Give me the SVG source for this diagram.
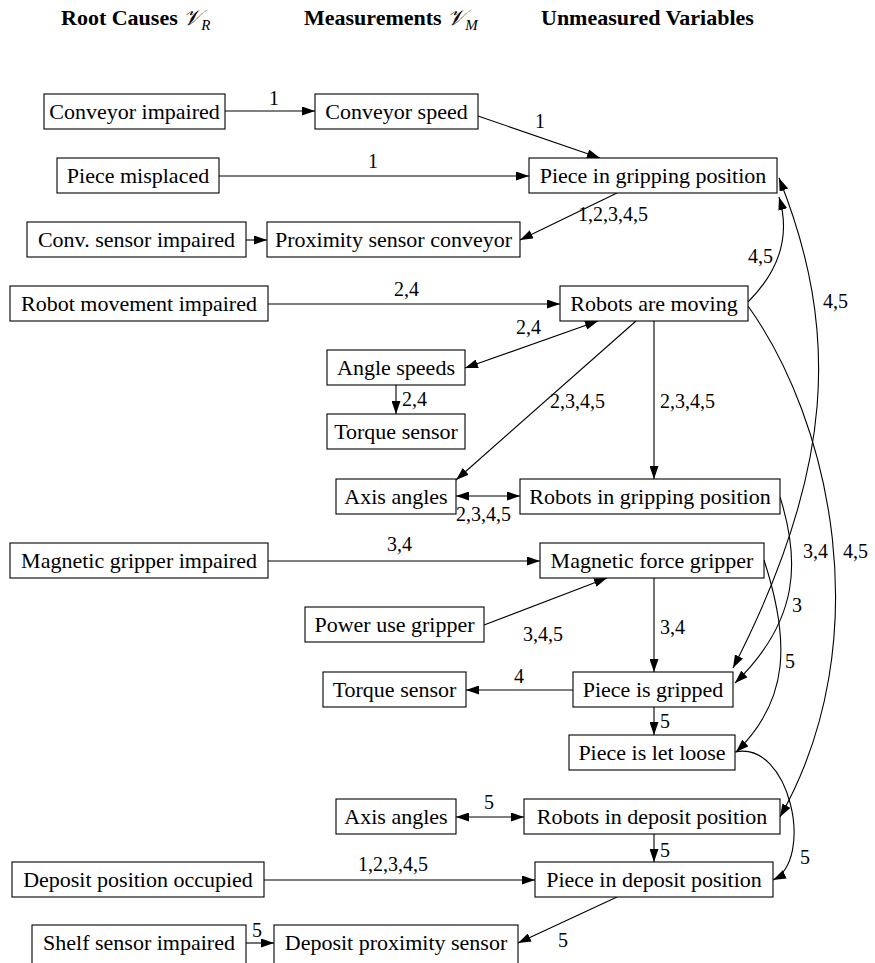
<svg xmlns="http://www.w3.org/2000/svg" width="875" height="963" viewBox="0 0 875 963">
<style>
.n rect{fill:#fff;stroke:#000;stroke-width:1.1}
.n text{font-family:"Liberation Serif","Times New Roman",serif;font-size:22px;text-anchor:middle;fill:#000}
.h{font-family:"Liberation Serif","Times New Roman",serif;font-size:22px;font-weight:bold;fill:#000}
.m{font-weight:normal;font-style:italic}
#edges path{fill:none;stroke:#000;stroke-width:1.1}
.l{font-family:"Liberation Serif","Times New Roman",serif;font-size:20px;fill:#000}
</style>
<defs>
<marker id="a" viewBox="0 0 13 9" refX="13" refY="4.5" markerWidth="13" markerHeight="9" markerUnits="userSpaceOnUse" orient="auto"><path d="M0,0 L13,4.5 L0,9 z" fill="#000"/></marker>
<marker id="s" viewBox="0 0 13 9" refX="0" refY="4.5" markerWidth="13" markerHeight="9" markerUnits="userSpaceOnUse" orient="auto"><path d="M13,0 L0,4.5 L13,9 z" fill="#000"/></marker>
</defs>
<g id="header">
<text class="h" x="61" y="25">Root Causes <tspan class="m">𝒱</tspan><tspan class="m" font-size="15" dy="5">R</tspan></text>
<text class="h" x="304" y="25">Measurements <tspan class="m">𝒱</tspan><tspan class="m" font-size="15" dy="5">M</tspan></text>
<text class="h" x="541" y="25">Unmeasured Variables</text>
</g>
<g id="edges">
<path d="M225,111 H315" marker-end="url(#a)"/>
<path d="M478,116 L600,158" marker-end="url(#a)"/>
<path d="M219,176 H529" marker-end="url(#a)"/>
<path d="M617,193 L520,240" marker-end="url(#a)"/>
<path d="M246,240 H267" marker-end="url(#a)"/>
<path d="M268,304 H560" marker-end="url(#a)"/>
<path d="M598,321 L465,368" marker-start="url(#s)" marker-end="url(#a)"/>
<path d="M396,385 V414" marker-end="url(#a)"/>
<path d="M636,321 L456,480" marker-end="url(#a)"/>
<path d="M654,321 V479" marker-end="url(#a)"/>
<path d="M456,496 H520" marker-start="url(#s)" marker-end="url(#a)"/>
<path d="M268,561 H540" marker-end="url(#a)"/>
<path d="M484,625 L607,578" marker-end="url(#a)"/>
<path d="M654,578 V672" marker-end="url(#a)"/>
<path d="M573,690 H466" marker-end="url(#a)"/>
<path d="M654,707 V735" marker-end="url(#a)"/>
<path d="M456,817 H524" marker-start="url(#s)" marker-end="url(#a)"/>
<path d="M654,834 V862" marker-end="url(#a)"/>
<path d="M264,880 H535" marker-end="url(#a)"/>
<path d="M617,897 L518,943" marker-end="url(#a)"/>
<path d="M246,943 H274" marker-end="url(#a)"/>
<path d="M748,302 C775,275 792,240 779,197" marker-end="url(#a)"/>
<path d="M779,178 C840,330 835,470 733,668" marker-start="url(#s)" marker-end="url(#a)"/>
<path d="M748,306 C830,420 880,640 780,817" marker-end="url(#a)"/>
<path d="M780,497 C800,560 800,620 735,683" marker-end="url(#a)"/>
<path d="M764,560 C790,640 790,700 736,752" marker-end="url(#a)"/>
<path d="M735,752 C790,740 815,860 773,880" marker-end="url(#a)"/>
</g>
<g id="labels">
<text class="l" x="269" y="105">1</text>
<text class="l" x="535" y="128">1</text>
<text class="l" x="368" y="168">1</text>
<text class="l" x="578" y="221">1,2,3,4,5</text>
<text class="l" x="394" y="296">2,4</text>
<text class="l" x="516" y="334">2,4</text>
<text class="l" x="402" y="406">2,4</text>
<text class="l" x="550" y="408">2,3,4,5</text>
<text class="l" x="660" y="408">2,3,4,5</text>
<text class="l" x="456" y="521">2,3,4,5</text>
<text class="l" x="387" y="551">3,4</text>
<text class="l" x="523" y="641">3,4,5</text>
<text class="l" x="660" y="634">3,4</text>
<text class="l" x="514" y="683">4</text>
<text class="l" x="660" y="728">5</text>
<text class="l" x="484" y="809">5</text>
<text class="l" x="660" y="857">5</text>
<text class="l" x="358" y="871">1,2,3,4,5</text>
<text class="l" x="558" y="947">5</text>
<text class="l" x="252" y="937">5</text>
<text class="l" x="748" y="263">4,5</text>
<text class="l" x="823" y="308">4,5</text>
<text class="l" x="803" y="558">3,4</text>
<text class="l" x="843" y="558">4,5</text>
<text class="l" x="792" y="612">3</text>
<text class="l" x="785" y="668">5</text>
<text class="l" x="800" y="864">5</text>
</g>
<g id="n1" class="n"><rect x="44" y="94" width="181" height="35"/><text x="134.5" y="119">Conveyor impaired</text></g>
<g id="n2" class="n"><rect x="315" y="94" width="163" height="35"/><text x="396.5" y="119">Conveyor speed</text></g>
<g id="n3" class="n"><rect x="57" y="158" width="162" height="35"/><text x="138" y="183">Piece misplaced</text></g>
<g id="n4" class="n"><rect x="529" y="158" width="248" height="35"/><text x="653" y="183">Piece in gripping position</text></g>
<g id="n5" class="n"><rect x="27" y="222" width="219" height="35"/><text x="136.5" y="247">Conv. sensor impaired</text></g>
<g id="n6" class="n"><rect x="267" y="222" width="253" height="35"/><text x="393.5" y="247">Proximity sensor conveyor</text></g>
<g id="n7" class="n"><rect x="10" y="286" width="258" height="35"/><text x="139" y="311">Robot movement impaired</text></g>
<g id="n8" class="n"><rect x="560" y="286" width="188" height="35"/><text x="654" y="311">Robots are moving</text></g>
<g id="n9" class="n"><rect x="327" y="350" width="138" height="35"/><text x="396" y="375">Angle speeds</text></g>
<g id="n10" class="n"><rect x="327" y="414" width="138" height="35"/><text x="396" y="439">Torque sensor</text></g>
<g id="n11" class="n"><rect x="336" y="479" width="120" height="35"/><text x="396" y="504">Axis angles</text></g>
<g id="n12" class="n"><rect x="520" y="479" width="260" height="35"/><text x="650" y="504">Robots in gripping position</text></g>
<g id="n13" class="n"><rect x="10" y="543" width="258" height="35"/><text x="139" y="568">Magnetic gripper impaired</text></g>
<g id="n14" class="n"><rect x="540" y="543" width="224" height="35"/><text x="652" y="568">Magnetic force gripper</text></g>
<g id="n15" class="n"><rect x="305" y="607" width="179" height="35"/><text x="394.5" y="632">Power use gripper</text></g>
<g id="n16" class="n"><rect x="323" y="672" width="143" height="35"/><text x="394.5" y="697">Torque sensor</text></g>
<g id="n17" class="n"><rect x="573" y="672" width="160" height="35"/><text x="653" y="697">Piece is gripped</text></g>
<g id="n18" class="n"><rect x="569" y="735" width="166" height="35"/><text x="652" y="760">Piece is let loose</text></g>
<g id="n19" class="n"><rect x="336" y="799" width="120" height="35"/><text x="396" y="824">Axis angles</text></g>
<g id="n20" class="n"><rect x="524" y="799" width="256" height="35"/><text x="652" y="824">Robots in deposit position</text></g>
<g id="n21" class="n"><rect x="12" y="862" width="252" height="35"/><text x="138" y="887">Deposit position occupied</text></g>
<g id="n22" class="n"><rect x="535" y="862" width="238" height="35"/><text x="654" y="887">Piece in deposit position</text></g>
<g id="n23" class="n"><rect x="32" y="925" width="214" height="40"/><text x="139" y="950">Shelf sensor impaired</text></g>
<g id="n24" class="n"><rect x="274" y="925" width="244" height="40"/><text x="396" y="950">Deposit proximity sensor</text></g>
</svg>
